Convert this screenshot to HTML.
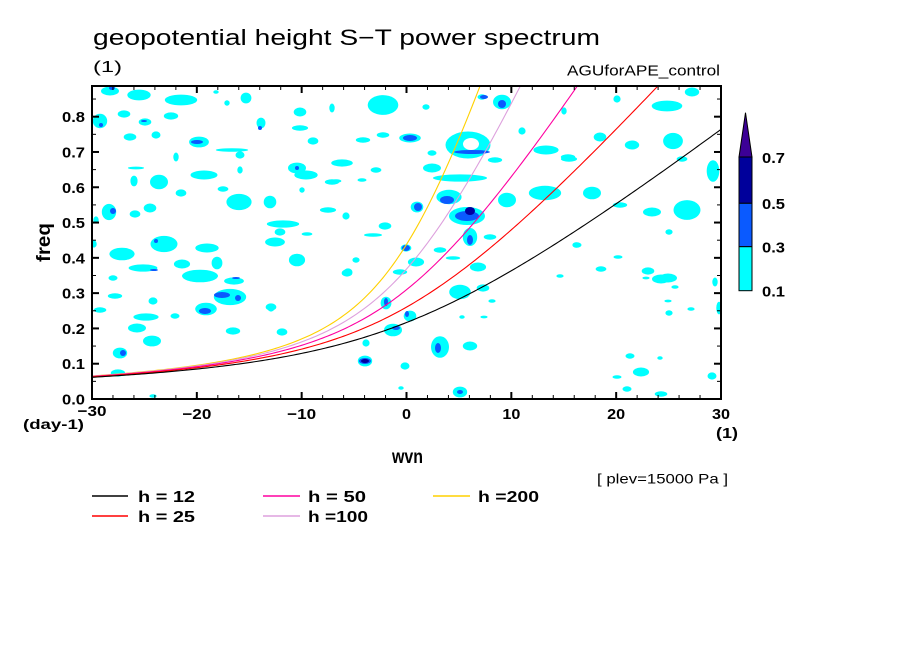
<!DOCTYPE html>
<html><head><meta charset="utf-8"><style>
html,body{margin:0;padding:0;background:#fff;}
svg{display:block;}
text{font-family:"Liberation Sans",sans-serif;fill:#000;}
.b{font-weight:bold;}
</style></head><body>
<svg id="s" width="904" height="654" viewBox="0 0 904 654" xmlns="http://www.w3.org/2000/svg">
<rect width="904" height="654" fill="#fff"/>
<defs><clipPath id="cp"><rect x="92" y="86" width="629" height="313"/></clipPath></defs>
<g clip-path="url(#cp)" id="blobs">
<g fill="#00ffff" id="cyan">
<ellipse cx="110" cy="91" rx="10" ry="5"/><ellipse cx="139" cy="95" rx="13" ry="6"/><ellipse cx="181" cy="100" rx="18" ry="6"/>
<ellipse cx="216" cy="92" rx="3" ry="2"/><ellipse cx="227" cy="103" rx="3" ry="3"/><ellipse cx="246" cy="98" rx="6" ry="6"/>
<ellipse cx="300" cy="112" rx="7" ry="5"/><ellipse cx="100" cy="121" rx="8" ry="8"/><ellipse cx="124" cy="114" rx="7" ry="4"/>
<ellipse cx="145" cy="122" rx="7" ry="4"/><ellipse cx="171" cy="116" rx="8" ry="4"/><ellipse cx="130" cy="137" rx="7" ry="4"/>
<ellipse cx="156" cy="135" rx="5" ry="4"/><ellipse cx="199" cy="142" rx="11" ry="6"/><ellipse cx="232" cy="150" rx="18" ry="2"/>
<ellipse cx="240" cy="155" rx="5" ry="4"/><ellipse cx="176" cy="157" rx="3" ry="5"/><ellipse cx="261" cy="123" rx="5" ry="6"/>
<ellipse cx="297" cy="168" rx="10" ry="6"/><ellipse cx="306" cy="175" rx="13" ry="5"/><ellipse cx="300" cy="128" rx="9" ry="3"/>
<ellipse cx="313" cy="141" rx="6" ry="4"/><ellipse cx="136" cy="168" rx="9" ry="1.5"/><ellipse cx="134" cy="181" rx="4" ry="6"/>
<ellipse cx="159" cy="182" rx="10" ry="8"/><ellipse cx="204" cy="175" rx="15" ry="5"/><ellipse cx="223" cy="189" rx="6" ry="3"/>
<ellipse cx="239" cy="202" rx="14" ry="9"/><ellipse cx="270" cy="202" rx="7" ry="7"/><ellipse cx="181" cy="193" rx="6" ry="4"/>
<ellipse cx="240" cy="170" rx="3" ry="4"/><ellipse cx="109" cy="212" rx="8" ry="9"/><ellipse cx="135" cy="214" rx="6" ry="4"/>
<ellipse cx="150" cy="208" rx="7" ry="5"/><ellipse cx="302" cy="190" rx="3" ry="3"/><ellipse cx="328" cy="210" rx="9" ry="3"/>
<ellipse cx="332" cy="182" rx="8" ry="3"/>
<ellipse cx="283" cy="224" rx="18" ry="4"/><ellipse cx="280" cy="232" rx="6" ry="4"/><ellipse cx="275" cy="242" rx="11" ry="5"/>
<ellipse cx="307" cy="234" rx="6" ry="2"/><ellipse cx="164" cy="244" rx="15" ry="9"/><ellipse cx="207" cy="248" rx="13" ry="5"/>
<ellipse cx="122" cy="254" rx="14" ry="7"/>
<ellipse cx="200" cy="276" rx="20" ry="7"/><ellipse cx="182" cy="264" rx="9" ry="5"/><ellipse cx="217" cy="263" rx="6" ry="7"/>
<ellipse cx="143" cy="268" rx="16" ry="4"/>
<ellipse cx="113" cy="278" rx="5" ry="3"/><ellipse cx="297" cy="260" rx="9" ry="7"/><ellipse cx="234" cy="281" rx="11" ry="4"/>
<ellipse cx="230" cy="297" rx="18" ry="9"/><ellipse cx="115" cy="296" rx="8" ry="3"/><ellipse cx="153" cy="301" rx="5" ry="4"/>
<ellipse cx="271" cy="307" rx="6" ry="4"/><ellipse cx="96" cy="220" rx="3" ry="4"/><ellipse cx="94" cy="244" rx="3" ry="4"/>
<ellipse cx="100" cy="310" rx="7" ry="3"/><ellipse cx="146" cy="317" rx="14" ry="4"/><ellipse cx="137" cy="328" rx="10" ry="5"/>
<ellipse cx="175" cy="316" rx="5" ry="3"/><ellipse cx="206" cy="309" rx="12" ry="7"/><ellipse cx="233" cy="331" rx="8" ry="4"/>
<ellipse cx="271" cy="308" rx="4" ry="4"/><ellipse cx="282" cy="332" rx="6" ry="4"/><ellipse cx="152" cy="341" rx="10" ry="6"/>
<ellipse cx="120" cy="353" rx="8" ry="6"/><ellipse cx="118" cy="373" rx="8" ry="4"/><ellipse cx="153" cy="396" rx="4" ry="2"/>
<ellipse cx="383" cy="105" rx="17" ry="11"/><ellipse cx="332" cy="108" rx="3" ry="5"/><ellipse cx="426" cy="107" rx="4" ry="3"/>
<ellipse cx="410" cy="138" rx="12" ry="5"/><ellipse cx="383" cy="135" rx="7" ry="3"/><ellipse cx="363" cy="140" rx="8" ry="3"/>
<ellipse cx="342" cy="163" rx="12" ry="4"/><ellipse cx="376" cy="170" rx="6" ry="3"/><ellipse cx="336" cy="181" rx="6" ry="2"/>
<ellipse cx="362" cy="180" rx="5" ry="2"/><ellipse cx="432" cy="168" rx="10" ry="5"/><ellipse cx="432" cy="153" rx="5" ry="3"/>
<ellipse cx="468" cy="145" rx="25" ry="15"/>
<ellipse cx="495" cy="160" rx="8" ry="3"/><ellipse cx="460" cy="178" rx="30" ry="4"/><ellipse cx="449" cy="197" rx="14" ry="8"/>
<ellipse cx="417" cy="207" rx="7" ry="6"/><ellipse cx="467" cy="216" rx="20" ry="10"/><ellipse cx="470" cy="237" rx="8" ry="10"/>
<ellipse cx="490" cy="237" rx="7" ry="3"/><ellipse cx="507" cy="200" rx="10" ry="8"/><ellipse cx="373" cy="235" rx="10" ry="2"/>
<ellipse cx="385" cy="226" rx="7" ry="4"/><ellipse cx="406" cy="248" rx="6" ry="4"/><ellipse cx="416" cy="262" rx="9" ry="5"/>
<ellipse cx="440" cy="250" rx="7" ry="3"/><ellipse cx="453" cy="258" rx="8" ry="2"/><ellipse cx="478" cy="267" rx="9" ry="5"/>
<ellipse cx="346" cy="216" rx="4" ry="4"/><ellipse cx="356" cy="260" rx="4" ry="3"/><ellipse cx="348" cy="272" rx="5" ry="4"/>
<ellipse cx="502" cy="102" rx="10" ry="8"/><ellipse cx="482" cy="97" rx="5" ry="3"/><ellipse cx="522" cy="131" rx="4" ry="4"/>
<ellipse cx="546" cy="150" rx="14" ry="5"/><ellipse cx="569" cy="159" rx="9" ry="3"/><ellipse cx="564" cy="111" rx="3" ry="4"/>
<ellipse cx="545" cy="193" rx="18" ry="8"/><ellipse cx="576" cy="245" rx="4" ry="3"/>
<ellipse cx="617" cy="99" rx="4" ry="4"/><ellipse cx="667" cy="106" rx="17" ry="6"/><ellipse cx="692" cy="92" rx="8" ry="5"/>
<ellipse cx="600" cy="137" rx="7" ry="5"/><ellipse cx="632" cy="145" rx="8" ry="5"/><ellipse cx="673" cy="141" rx="11" ry="9"/>
<ellipse cx="568" cy="157" rx="8" ry="3"/><ellipse cx="682" cy="159" rx="6" ry="3"/><ellipse cx="713" cy="171" rx="7" ry="12"/>
<ellipse cx="592" cy="193" rx="10" ry="7"/><ellipse cx="620" cy="205" rx="8" ry="3"/><ellipse cx="652" cy="212" rx="10" ry="5"/>
<ellipse cx="687" cy="210" rx="15" ry="11"/><ellipse cx="577" cy="245" rx="5" ry="3"/><ellipse cx="618" cy="257" rx="5" ry="2"/>
<ellipse cx="669" cy="232" rx="4" ry="3"/><ellipse cx="648" cy="271" rx="7" ry="4"/><ellipse cx="601" cy="269" rx="6" ry="3"/>
<ellipse cx="668" cy="278" rx="10" ry="5"/><ellipse cx="715" cy="282" rx="3" ry="5"/>
<ellipse cx="347" cy="273" rx="6" ry="4"/><ellipse cx="400" cy="272" rx="8" ry="3"/><ellipse cx="460" cy="292" rx="12" ry="8"/>
<ellipse cx="483" cy="288" rx="7" ry="4"/><ellipse cx="386" cy="303" rx="6" ry="7"/><ellipse cx="410" cy="316" rx="7" ry="6"/>
<ellipse cx="393" cy="330" rx="10" ry="7"/><ellipse cx="366" cy="343" rx="4" ry="4"/><ellipse cx="440" cy="347" rx="10" ry="12"/>
<ellipse cx="470" cy="346" rx="8" ry="5"/><ellipse cx="365" cy="361" rx="8" ry="6"/><ellipse cx="405" cy="366" rx="5" ry="4"/>
<ellipse cx="460" cy="392" rx="8" ry="6"/><ellipse cx="661" cy="279" rx="10" ry="5"/><ellipse cx="675" cy="287" rx="4" ry="2"/>
<ellipse cx="646" cy="278" rx="4" ry="1.5"/><ellipse cx="668" cy="301" rx="4" ry="1.5"/><ellipse cx="669" cy="313" rx="4" ry="3"/>
<ellipse cx="691" cy="309" rx="4" ry="2"/><ellipse cx="719" cy="308" rx="3" ry="7"/><ellipse cx="641" cy="372" rx="9" ry="5"/>
<ellipse cx="617" cy="377" rx="5" ry="2"/><ellipse cx="627" cy="389" rx="5" ry="3"/><ellipse cx="661" cy="394" rx="7" ry="3"/>
<ellipse cx="712" cy="376" rx="5" ry="4"/><ellipse cx="630" cy="356" rx="5" ry="3"/><ellipse cx="660" cy="358" rx="3" ry="2"/>
<ellipse cx="401" cy="388" rx="3" ry="2"/><ellipse cx="560" cy="276" rx="4" ry="2"/><ellipse cx="492" cy="301" rx="4" ry="2"/>
<ellipse cx="462" cy="317" rx="3" ry="2"/><ellipse cx="484" cy="317" rx="4" ry="1.5"/>
</g>
<ellipse cx="471" cy="144" rx="8" ry="6" fill="#fff"/>
<g fill="#0a5aff">
<ellipse cx="197" cy="142" rx="6" ry="2"/><ellipse cx="410" cy="138" rx="7" ry="3"/><ellipse cx="472" cy="152" rx="18" ry="2"/>
<ellipse cx="467" cy="216" rx="12" ry="5"/><ellipse cx="447" cy="200" rx="7" ry="4"/><ellipse cx="418" cy="207" rx="4" ry="4"/>
<ellipse cx="470" cy="240" rx="3" ry="5"/><ellipse cx="406" cy="248" rx="4" ry="3"/><ellipse cx="222" cy="295" rx="8" ry="3"/>
<ellipse cx="238" cy="298" rx="3" ry="3"/><ellipse cx="156" cy="241" rx="2" ry="2"/><ellipse cx="154" cy="270" rx="4" ry="1"/>
<ellipse cx="236" cy="278" rx="4" ry="1"/><ellipse cx="205" cy="311" rx="6" ry="3"/><ellipse cx="123" cy="353" rx="3" ry="3"/>
<ellipse cx="460" cy="392" rx="3" ry="2"/><ellipse cx="386" cy="302" rx="2" ry="4"/><ellipse cx="407" cy="314" rx="2" ry="3"/>
<ellipse cx="396" cy="328" rx="4" ry="2"/><ellipse cx="438" cy="348" rx="3" ry="5"/><ellipse cx="112" cy="88" rx="3" ry="2"/>
<ellipse cx="101" cy="125" rx="2" ry="2"/><ellipse cx="144" cy="121" rx="3" ry="1"/><ellipse cx="113" cy="211" rx="3" ry="3"/>
<ellipse cx="502" cy="104" rx="4" ry="4"/><ellipse cx="484" cy="97" rx="4" ry="2"/><ellipse cx="260" cy="128" rx="2" ry="2"/>
<ellipse cx="297" cy="168" rx="2" ry="2"/><ellipse cx="365" cy="361" rx="6" ry="3"/>
</g>
<g fill="#0000a0">
<ellipse cx="470" cy="211" rx="5" ry="4"/><ellipse cx="365" cy="361" rx="4" ry="2"/>
</g>
</g>
<g id="curves" clip-path="url(#cp)" fill="none" stroke-width="1.1"></g>
<g id="ticks" stroke="#000"></g>
<rect x="92" y="86" width="629" height="313" fill="none" stroke="#000" stroke-width="2"/>

<!-- colorbar -->
<polygon points="739,157 752,157 745.5,112.7" fill="#3c0096" stroke="#000" stroke-width="1"/>
<rect x="739" y="157" width="13" height="46.3" fill="#00009b" stroke="#000" stroke-width="1"/>
<rect x="739" y="203.3" width="13" height="43.4" fill="#0a5aff" stroke="#000" stroke-width="1"/>
<rect x="739" y="246.7" width="13" height="44" fill="#00ffff" stroke="#000" stroke-width="1"/>
<text class="b" x="762" y="163" font-size="15" textLength="23" lengthAdjust="spacingAndGlyphs">0.7</text>
<text class="b" x="762" y="209" font-size="15" textLength="23" lengthAdjust="spacingAndGlyphs">0.5</text>
<text class="b" x="762" y="252.5" font-size="15" textLength="23" lengthAdjust="spacingAndGlyphs">0.3</text>
<text class="b" x="762" y="296.5" font-size="15" textLength="23" lengthAdjust="spacingAndGlyphs">0.1</text>

<!-- titles -->
<text x="93" y="45" font-size="22" textLength="507" lengthAdjust="spacingAndGlyphs">geopotential height S−T power spectrum</text>
<text x="93" y="72" font-size="16" textLength="29" lengthAdjust="spacingAndGlyphs">(1)</text>
<text x="567" y="75.5" font-size="15" textLength="153" lengthAdjust="spacingAndGlyphs">AGUforAPE_control</text>

<g id="ylab"></g>
<g id="xlab"></g>
<text class="b" x="23" y="429" font-size="14" textLength="61" lengthAdjust="spacingAndGlyphs">(day-1)</text>
<text class="b" x="716" y="438" font-size="15" textLength="22" lengthAdjust="spacingAndGlyphs">(1)</text>
<text class="b" x="392" y="463" font-size="19" textLength="31" lengthAdjust="spacingAndGlyphs">wvn</text>
<text class="b" transform="translate(50,262) rotate(-90)" font-size="19" textLength="39" lengthAdjust="spacingAndGlyphs">freq</text>
<text x="597" y="483.5" font-size="14" textLength="131" lengthAdjust="spacingAndGlyphs">[ plev=15000 Pa ]</text>

<!-- legend -->
<line x1="92" y1="496" x2="128" y2="496" stroke="#000" stroke-width="1.5"/>
<text class="b" x="138" y="502" font-size="16" textLength="57" lengthAdjust="spacingAndGlyphs">h = 12</text>
<line x1="92" y1="516" x2="128" y2="516" stroke="#ff0000" stroke-width="1.5"/>
<text class="b" x="138" y="522" font-size="16" textLength="57" lengthAdjust="spacingAndGlyphs">h = 25</text>
<line x1="263" y1="496" x2="300" y2="496" stroke="#ff00a0" stroke-width="1.5"/>
<text class="b" x="308" y="502" font-size="16" textLength="58" lengthAdjust="spacingAndGlyphs">h = 50</text>
<line x1="263" y1="516" x2="300" y2="516" stroke="#dda0dd" stroke-width="1.5"/>
<text class="b" x="308" y="522" font-size="16" textLength="60" lengthAdjust="spacingAndGlyphs">h =100</text>
<line x1="433" y1="496" x2="470" y2="496" stroke="#ffd000" stroke-width="1.5"/>
<text class="b" x="478" y="502" font-size="16" textLength="61" lengthAdjust="spacingAndGlyphs">h =200</text>
</svg>
<script>
(function(){
var NS="http://www.w3.org/2000/svg";
function X(s){return 92+(s+30)*629/60;}
function Y(f){return 399-f*352.9;}
function el(tag,attrs,parent,txt){var e=document.createElementNS(NS,tag);for(var k in attrs)e.setAttribute(k,attrs[k]);if(txt!==undefined)e.textContent=txt;parent.appendChild(e);return e;}
// slightly shrink cyan blobs
var cy=document.getElementById('cyan').getElementsByTagName('ellipse');
for(var i=0;i<cy.length;i++){var e=cy[i];e.setAttribute('rx',(parseFloat(e.getAttribute('rx'))*0.9).toFixed(2));e.setAttribute('ry',(parseFloat(e.getAttribute('ry'))*0.9).toFixed(2));}
var O=7.292e-5,a=6.371e6,g=9.81,b=2*O/a;
var cg=document.getElementById('curves');
[[200,'#ffd000'],[100,'#dda0dd'],[50,'#ff00a0'],[25,'#ff0000'],[12,'#000000']].forEach(function(p){
  var c=Math.sqrt(g*p[0]),d='';
  for(var s=-30;s<=30.001;s+=0.25){var k=s/a;var w=(c*k+Math.sqrt(c*c*k*k+4*b*c))/2;var f=w*86400/(2*Math.PI);
    d+=(d?'L':'M')+X(s).toFixed(2)+' '+Y(f).toFixed(2);}
  el('path',{d:d,stroke:p[1]},cg);
});
var tg=document.getElementById('ticks');
for(var s=-30;s<=30;s+=2){var x=X(s),maj=(s%10===0),L=maj?7:4,w=maj?2:1;
  el('line',{x1:x,y1:399,x2:x,y2:399-L,'stroke-width':w},tg);
  el('line',{x1:x,y1:86,x2:x,y2:86+L,'stroke-width':w},tg);}
for(var i=0;i<=17;i++){var f=i*0.05,y=Y(f),maj=(i%2===0),L=maj?7:4,w=maj?2:1;
  el('line',{x1:92,y1:y,x2:92+L,y2:y,'stroke-width':w},tg);
  el('line',{x1:721,y1:y,x2:721-L,y2:y,'stroke-width':w},tg);}
var yl=document.getElementById('ylab');
for(var i=0;i<=8;i++){el('text',{x:85,y:(Y(i/10)+5.5).toFixed(1),'font-size':15,'class':'b','text-anchor':'end',textLength:23,lengthAdjust:'spacingAndGlyphs'},yl,(i/10).toFixed(1));}
var xl=document.getElementById('xlab');
[-30,-20,-10,0,10,20,30].forEach(function(v){var t=v<0?('\u2212'+(-v)):String(v);var w=v<0?29:(v===0?9:18);
  el('text',{x:X(v),y:v===-30?416:419,'font-size':15,'class':'b','text-anchor':'middle',textLength:w,lengthAdjust:'spacingAndGlyphs'},xl,t);});
})();
</script>
</body></html>
